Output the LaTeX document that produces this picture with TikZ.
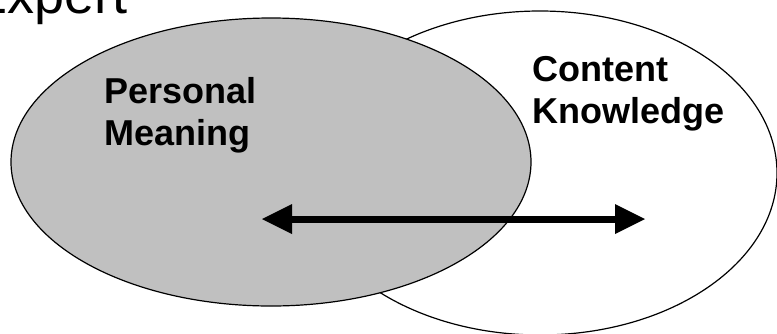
\documentclass[tikz,border=0pt]{standalone}
\usepackage{fontspec}
\setmainfont{Liberation Sans}
\usetikzlibrary{shapes.geometric,arrows.meta}
\definecolor{meaninggray}{HTML}{C0C0C0}
\tikzset{
  x=1pt, y=-1pt,
  oval/.style={ellipse, draw=black, line width=1.2pt, inner sep=0pt},
  label/.style={font=\fontsize{36}{42}\selectfont\bfseries, align=left, inner sep=0pt, anchor=base west},
  link/.style={line width=7pt, {Triangle[length=30pt,width=30pt,line width=0pt]}-{Triangle[length=30pt,width=30pt,line width=0pt]}}
}
\begin{document}
\begin{tikzpicture}
  \useasboundingbox (0,0) rectangle (777,333);
  \clip (0,0) rectangle (777,333);
  % heading, partly off the left edge
  \node[font=\fontsize{54}{60}\selectfont, inner sep=0pt, anchor=base west] (title) at (-29,13) {Expert};
  % the two overlapping ovals
  \node[oval, fill=white, minimum width=474pt, minimum height=324pt] (ck) at (540,173) {};
  \node[oval, fill=meaninggray, minimum width=520pt, minimum height=288pt] (pm) at (271,162) {};
  % labels
  \node[label] (pmtext) at (104,145) {Personal\\Meaning};
  \node[label] (cktext) at (532,123) {Content\\Knowledge};
  % double-headed arrow
  \coordinate (a) at (262,219);
  \coordinate (b) at (645,219);
  \draw[link] (a) -- (b);
\end{tikzpicture}
\end{document}
